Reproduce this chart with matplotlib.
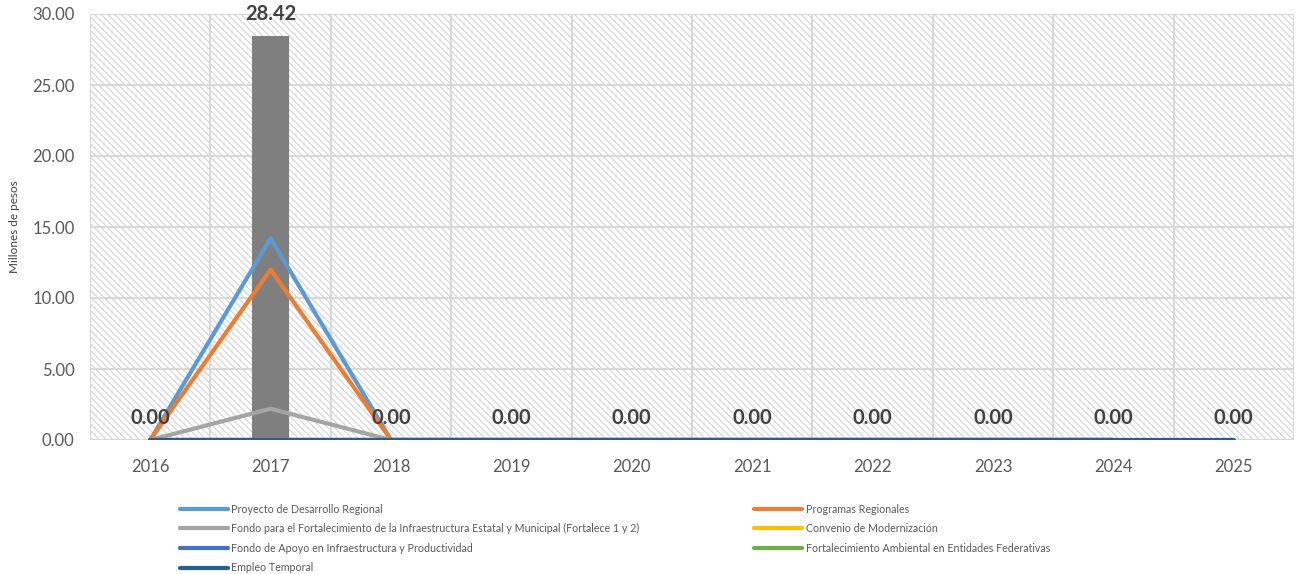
import matplotlib
matplotlib.use("Agg")
import matplotlib.pyplot as plt
from matplotlib.patches import Rectangle
import numpy as np

plt.rcParams['font.family'] = ['Lato', 'DejaVu Sans']

years = ["2016", "2017", "2018", "2019", "2020", "2021", "2022", "2023", "2024", "2025"]
total = [0.00, 28.42, 0.00, 0.00, 0.00, 0.00, 0.00, 0.00, 0.00, 0.00]

series_names = [
    "Proyecto de Desarrollo Regional",
    "Programas Regionales",
    "Fondo para el Fortalecimiento de la Infraestructura Estatal y Municipal (Fortalece 1 y 2)",
    "Convenio de Modernización",
    "Fondo de Apoyo en Infraestructura y Productividad",
    "Fortalecimiento Ambiental en Entidades Federativas",
    "Empleo Temporal",
]
proyecto = [0.0, 14.2, 0.0, 0.0, 0.0, 0.0, 0.0, 0.0, 0.0, None]
programas = [0.0, 12.0, 0.0, 0.0, 0.0, 0.0, 0.0, 0.0, 0.0, None]
fortalece = [0.0, 2.2, 0.0, 0.0, 0.0, 0.0, 0.0, 0.0, 0.0, None]
convenio = [0.0, 0.0, 0.0, 0.0, 0.0, 0.0, 0.0, 0.0, 0.0, None]
fondo_apoyo = [0.0, 0.0, 0.0, 0.0, 0.0, 0.0, 0.0, 0.0, 0.0, None]
ambiental = [0.0, 0.0, 0.0, 0.0, 0.0, 0.0, 0.0, 0.0, 0.0, None]
empleo = [0.0, 0.0, 0.0, 0.0, 0.0, 0.0, 0.0, 0.0, 0.0, 0.0]
series_values = [proyecto, programas, fortalece, convenio, fondo_apoyo, ambiental, empleo]
series_colors = ["#5B9BD5", "#ED7D31", "#A5A5A5", "#FFC000", "#4472C4", "#70AD47", "#255E91"]

yticks = [0, 5, 10, 15, 20, 25, 30]

fig = plt.figure(figsize=(12.97, 5.74), dpi=100)
ax = fig.add_axes([90/1297, 1-440/574, 1204/1297, 426/574])

x = np.arange(len(years))
ax.set_xlim(-0.5, len(years)-0.5)
ax.set_ylim(0, 30)

# hatched background
plt.rcParams['hatch.linewidth'] = 0.8
bg = Rectangle((0, 0), 1, 1, transform=ax.transAxes, facecolor="white",
               edgecolor="#d4d4d4", hatch="\\\\\\\\\\", linewidth=0, zorder=0)
ax.add_patch(bg)

# grid
for yv in yticks:
    ax.axhline(yv, color="#d9d9d9", lw=1.5, zorder=1)
for b in np.arange(-0.5, len(years)+0.5, 1):
    ax.axvline(b, color="#d9d9d9", lw=1.5, zorder=1)

ax.bar(x, total, width=0.31, color="#7F7F7F", zorder=2)
for xi, v in zip(x, total):
    ax.annotate(f"{v:.2f}", (xi, v), xytext=(0, 9), textcoords="offset points",
                ha="center", va="bottom", fontsize=14.5, fontweight="bold", color="#404040", zorder=5)

handles = []
for name, vals, c in zip(series_names, series_values, series_colors):
    arr = np.array([np.nan if v is None else v for v in vals], dtype=float)
    h, = ax.plot(x, arr, color=c, lw=3, label=name, zorder=3, solid_capstyle="round")
    handles.append(h)

for s in ax.spines.values():
    s.set_visible(False)
ax.set_yticks(yticks)
ax.set_yticklabels([f"{v:.2f}" for v in yticks])
ax.set_xticks(x)
ax.set_xticklabels(years)
ax.tick_params(axis="both", length=0, labelsize=12, colors="#595959")
ax.tick_params(axis="x", pad=14)
ax.tick_params(axis="y", pad=11)
ax.set_ylabel("Millones de pesos", fontsize=8.5, color="#404040", labelpad=9)

order = [0, 2, 4, 6, 1, 3, 5]
leg = fig.legend([handles[i] for i in order], [series_names[i] for i in order],
                 loc="upper left", bbox_to_anchor=(170/1297, 1-494/574), ncol=2,
                 frameon=False, fontsize=7.7, handlelength=4.5, handletextpad=0.35,
                 labelspacing=0.8, columnspacing=10.7, labelcolor="#595959")

fig.savefig("out.png", dpi=100)
